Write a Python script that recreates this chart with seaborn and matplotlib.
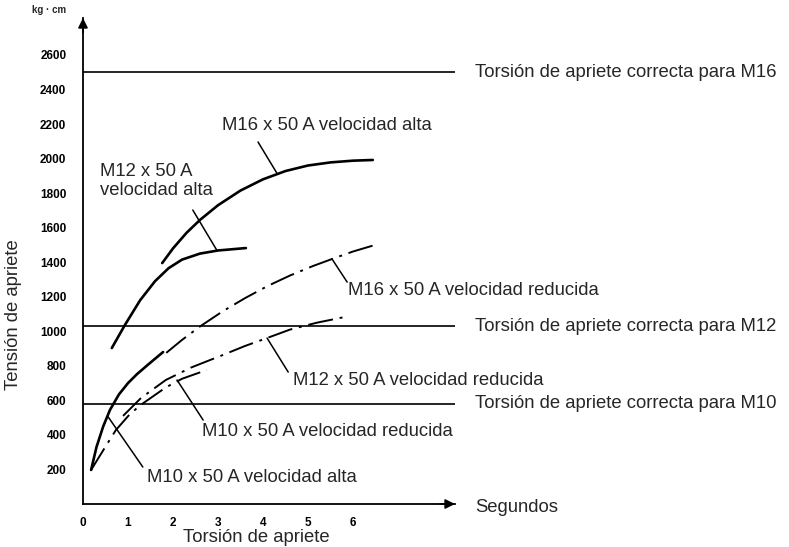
import matplotlib
matplotlib.use("Agg")
import matplotlib.pyplot as plt
import seaborn as sns
import pandas as pd

# ---------------- data ----------------
m16_alta_x = [1.76, 2.0, 2.3, 2.6, 3.0, 3.5, 4.0, 4.5, 5.0, 5.5, 6.0, 6.44]
m16_alta_y = [1395, 1480, 1570, 1645, 1730, 1815, 1880, 1928, 1960, 1978, 1988, 1992]

m12_alta_x = [0.64, 0.93, 1.27, 1.6, 1.9, 2.2, 2.6, 3.0, 3.62]
m12_alta_y = [903, 1036, 1180, 1290, 1365, 1415, 1450, 1468, 1482]

m10_alta_x = [0.18, 0.3, 0.45, 0.6, 0.8, 1.0, 1.2, 1.45, 1.78]
m10_alta_y = [197, 330, 450, 545, 635, 700, 752, 808, 880]

m16_red_x = [1.85, 2.2, 2.6, 3.1, 3.6, 4.1, 4.6, 5.1, 5.6, 6.0, 6.49]
m16_red_y = [875, 950, 1028, 1115, 1192, 1262, 1323, 1377, 1425, 1462, 1500]

m12_red_x = [0.89, 1.29, 1.84, 2.4, 3.11, 3.6, 4.09, 4.6, 5.2, 5.82]
m12_red_y = [510, 614, 718, 790, 863, 915, 961, 1010, 1050, 1083]

m10_red_x = [0.18, 0.48, 0.73, 1.04, 1.29, 1.84, 2.2, 2.75]
m10_red_y = [197, 324, 428, 520, 575, 675, 725, 776]

ref_values = [2500, 1030, 580]
ref_labels = ["Torsión de apriete correcta para M16",
              "Torsión de apriete correcta para M12",
              "Torsión de apriete correcta para M10"]

curve_labels = ["M16 x 50 A velocidad alta",
                "M12 x 50 A\nvelocidad alta",
                "M16 x 50 A velocidad reducida",
                "M12 x 50 A velocidad reducida",
                "M10 x 50 A velocidad reducida",
                "M10 x 50 A velocidad alta"]

y_ticks = [200, 400, 600, 800, 1000, 1200, 1400, 1600, 1800, 2000, 2200, 2400, 2600]
x_ticks = [0, 1, 2, 3, 4, 5, 6]

# ---------------- style ----------------
sns.set_theme(style="white")
plt.rcParams['font.family'] = ['Liberation Sans', 'DejaVu Sans']

W, H = 789, 547
FS = 13.3
fig = plt.figure(figsize=(W / 100, H / 100), dpi=100)
# axes box in pixels: x 83..455, y 18..504
ax = fig.add_axes([83 / W, (H - 504) / H, (455 - 83) / W, (504 - 18) / H])
ax.set_xlim(0, (455 - 83) / 45.0)
ax.set_ylim(0, (504 - 18) / 0.1727)

def px(x, y):
    return x / W, 1 - y / H

solid = dict(color="black", lw=1.9)
dashdot = dict(color="black", lw=1.4, linestyle=(0, (13, 3.5, 1.5, 3.5)))

curves = [
    (m16_alta_x, m16_alta_y, solid),
    (m12_alta_x, m12_alta_y, solid),
    (m10_alta_x, m10_alta_y, solid),
    (m16_red_x, m16_red_y, dashdot),
    (m12_red_x, m12_red_y, dashdot),
    (m10_red_x, m10_red_y, dashdot),
]
for xs, ys, st in curves:
    df = pd.DataFrame({"t": xs, "v": ys})
    sns.lineplot(data=df, x="t", y="v", ax=ax, estimator=None, sort=False, **st)

for v, lab in zip(ref_values, ref_labels):
    ax.axhline(v, color="black", lw=1.2)
    ax.text(8.71, v, lab, ha="left", va="center", fontsize=FS, clip_on=False)

# curve labels and pointer lines
label_pos = [(3.1, 2189), (0.38, 1870), (5.89, 1239), (4.67, 718), (2.64, 417), (1.42, 151)]
pointers = [((3.89, 2096), (4.31, 1915)),
            ((2.44, 1702), (2.98, 1467)),
            ((5.53, 1420), (5.87, 1285)),
            ((4.09, 961), (4.56, 764)),
            ((2.09, 718), (2.67, 486)),
            ((0.56, 504), (1.33, 214))]
for lab, (tx, ty), (p0, p1) in zip(curve_labels, label_pos, pointers):
    ax.text(tx, ty, lab, ha="left", va="center", fontsize=FS, linespacing=1.15)
    ax.annotate("", xy=p1, xytext=p0,
                arrowprops=dict(arrowstyle="-", color="black", lw=1.1,
                                shrinkA=0, shrinkB=0))

# axes
for s in ["top", "right"]:
    ax.spines[s].set_visible(False)
for s in ["left", "bottom"]:
    ax.spines[s].set_color("black")
    ax.spines[s].set_linewidth(1.3)

ax.set_yticks(y_ticks)
ax.set_yticklabels([str(t) for t in y_ticks])
ax.set_xticks(x_ticks)
ax.set_xticklabels([str(t) for t in x_ticks])
ax.tick_params(axis="both", direction="in", length=4, width=1, color="black",
               labelsize=8.5, labelcolor="black")
ax.tick_params(axis="y", pad=12)
ax.tick_params(axis="x", pad=9)
for t in ax.get_xticklabels() + ax.get_yticklabels():
    t.set_fontweight("bold")
ax.set_xlabel("")
ax.set_ylabel("")

# arrow heads
ax.annotate("", xy=(1.0, 0), xytext=(0.96, 0), xycoords=("axes fraction", "data"),
            textcoords=("axes fraction", "data"),
            arrowprops=dict(arrowstyle="-|>", color="black", lw=1.3, mutation_scale=14,
                            shrinkA=0, shrinkB=0), annotation_clip=False)
ax.annotate("", xy=(0, 1.0), xytext=(0, 0.97), xycoords=("data", "axes fraction"),
            textcoords=("data", "axes fraction"),
            arrowprops=dict(arrowstyle="-|>", color="black", lw=1.3, mutation_scale=14,
                            shrinkA=0, shrinkB=0), annotation_clip=False)

fig.text(*px(256, 538), "Torsión de apriete", ha="center", va="center", fontsize=FS)
fig.text(*px(14, 315), "Tensión de apriete", ha="center", va="center", fontsize=FS,
         rotation=90)
fig.text(*px(475, 508), "Segundos", ha="left", va="center", fontsize=FS)
fig.text(*px(49, 10), "kg · cm", ha="center", va="center", fontsize=7, fontweight="bold")

fig.savefig("out.png", dpi=100, facecolor="white")
